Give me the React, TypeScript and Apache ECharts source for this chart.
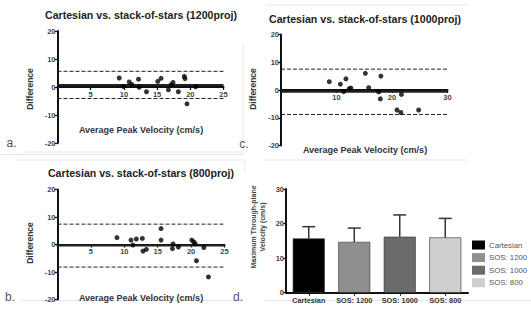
import React, { useEffect, useRef } from "react";
import * as echarts from "echarts";

// Bland-Altman panel a (1200 proj): [average, difference]
const aPoints = [
  [9.3, 3.2], [9.9, 0.2], [10.8, 1.8], [11.2, 0.9], [12.2, 2.8], [12.3, -0.1],
  [13.4, -1.7], [15.1, 2.0], [15.6, 3.1], [16.7, -1.0], [17.1, 0.8], [17.4, 1.6],
  [18.2, -1.7], [19.1, 3.8], [19.2, 3.0], [19.5, -6.0], [20.8, 0.1],
];
// mean, upper limit, lower limit
const aLines = [0.75, 5.6, -4.1];

// panel c (1000 proj)
const cPoints = [
  [8.7, 3.0], [10.7, 2.1], [11.3, -0.6], [11.7, 4.0], [12.3, 0.5], [12.6, 0.7],
  [15.2, 6.0], [15.8, 0.8], [17.6, -0.7], [18.0, 5.0], [17.9, -3.2], [20.9, -7.2],
  [21.6, -8.1], [21.7, -1.6], [24.8, -7.2],
];
const cLines = [-0.65, 7.5, -8.8];

// panel b (800 proj)
const bPoints = [
  [8.9, 2.5], [11.0, 1.6], [11.3, -0.2], [11.8, 2.0], [12.7, 2.2], [12.8, -2.4],
  [13.3, -1.8], [15.5, 5.8], [15.5, 1.6], [17.2, -1.5], [17.3, 0.2], [18.1, -0.9],
  [20.1, 1.6], [20.4, 0.9], [20.6, 0.3], [20.8, -5.9], [21.9, -1.1], [22.6, -11.8],
];
const bLines = [-0.4, 7.4, -8.2];

// Difference axis range
const diffRange = [-20, 20];

// panel d bars
const barCategories = ["Cartesian", "SOS: 1200", "SOS: 1000", "SOS: 800"];
const barMeans = [15.7, 14.7, 16.2, 16.0];
const barSD = [3.4, 4.0, 6.3, 5.5];
const barColors = ["#000000", "#8f8f8f", "#6b6b6b", "#cfcfcf"];

const FONT = "'Liberation Sans', Arial, Helvetica, sans-serif";

export default function App() {
  const ref = useRef<HTMLDivElement>(null);

  useEffect(() => {
    if (!ref.current) return;
    document.body.style.margin = "0";
    const chart = echarts.init(ref.current, null, { renderer: "svg" });

    const grids = [
      { left: 57.5, top: 31, width: 166, height: 112 },
      { left: 281, top: 34.4, width: 166.5, height: 111.2 },
      { left: 57.5, top: 189.5, width: 167, height: 110 },
      { left: 286, top: 189, width: 182, height: 103.7 },
    ];

    const tickLabel = {
      fontSize: 7.5,
      fontWeight: "bold" as const,
      color: "#444",
      fontFamily: FONT,
    };

    // x axis placed at difference = 0 (moved up from the grid bottom)
    const valueX = (gi: number, max: number, interval: number) => {
      const h = grids[gi].height;
      const zeroFromBottom = (h * (0 - diffRange[0])) / (diffRange[1] - diffRange[0]);
      return {
        type: "value" as const,
        gridIndex: gi,
        min: 0,
        max,
        interval,
        position: "bottom" as const,
        offset: -zeroFromBottom,
        axisLine: { onZero: false, lineStyle: { color: "#111", width: 2 } },
        axisTick: { show: true, length: 3, lineStyle: { color: "#111", width: 1.3 } },
        axisLabel: {
          ...tickLabel,
          margin: 3,
          formatter: (v: number) => (v === 0 ? "" : String(v)),
        },
        splitLine: { show: false },
      };
    };

    const valueY = (gi: number) => ({
      type: "value" as const,
      gridIndex: gi,
      min: diffRange[0],
      max: diffRange[1],
      interval: 10,
      axisLine: { show: true, onZero: false, lineStyle: { color: "#111", width: 2 } },
      axisTick: { show: true, length: 3, lineStyle: { color: "#111", width: 1.3 } },
      axisLabel: { ...tickLabel, margin: 2 },
      splitLine: { show: false },
    });

    const baSeries = (gi: number, pts: number[][], lines: number[], xmax: number) => {
      const hl = (y: number, dashed: boolean, w: number) => ({
        type: "line" as const,
        xAxisIndex: gi,
        yAxisIndex: gi,
        data: [
          [0, y],
          [xmax, y],
        ],
        symbol: "none",
        silent: true,
        lineStyle: { color: "#222", width: w, type: dashed ? [4, 2] : "solid" },
        z: 3,
      });
      return [
        hl(lines[0], false, 2),
        hl(lines[1], true, 1),
        hl(lines[2], true, 1),
        {
          type: "scatter" as const,
          xAxisIndex: gi,
          yAxisIndex: gi,
          data: pts,
          symbol: "circle",
          symbolSize: 5,
          itemStyle: { color: "#000" },
          z: 5,
        },
      ];
    };

    const text = (
      x: number,
      y: number,
      t: string,
      size: number,
      weight: string,
      fill: string,
      rotation = 0
    ) => ({
      type: "text" as const,
      x,
      y,
      rotation,
      silent: true,
      style: {
        text: t,
        fontSize: size,
        fontWeight: weight,
        fontFamily: FONT,
        fill,
        textAlign: "center",
        textVerticalAlign: "middle",
      },
    });

    const frame = (x1: number, y1: number, x2: number, y2: number) => ({
      type: "line" as const,
      silent: true,
      shape: { x1, y1, x2, y2 },
      style: { stroke: "#e6e6e6", lineWidth: 1 },
    });

    const option = {
      animation: false,
      grid: grids,
      legend: {
        data: barCategories,
        orient: "vertical",
        left: 472,
        top: 240.5,
        width: 59,
        padding: 0,
        itemWidth: 13,
        itemHeight: 9,
        itemGap: 3.6,
        icon: "rect",
        selectedMode: false,
        itemStyle: { borderWidth: 0 },
        textStyle: {
          fontSize: 7.8,
          color: "#555",
          fontFamily: FONT,
          overflow: "none",
          width: 45,
          padding: [0, 0, 0, -1],
        },
      },
      xAxis: [
        valueX(0, 25, 5),
        valueX(1, 30, 10),
        valueX(2, 25, 5),
        {
          type: "category",
          gridIndex: 3,
          data: barCategories,
          axisLine: { lineStyle: { color: "#111", width: 2 } },
          axisTick: { show: true, alignWithLabel: true, length: 3, lineStyle: { color: "#111" } },
          axisLabel: { ...tickLabel, fontSize: 7.3, color: "#333", margin: 4, interval: 0 },
        },
      ],
      yAxis: [
        valueY(0),
        valueY(1),
        valueY(2),
        {
          type: "value",
          gridIndex: 3,
          min: 0,
          max: 30,
          interval: 10,
          axisLine: { show: true, lineStyle: { color: "#111", width: 2 } },
          axisTick: { show: true, length: 3, lineStyle: { color: "#111", width: 1.3 } },
          axisLabel: { ...tickLabel, margin: 2 },
          splitLine: { show: false },
        },
      ],
      series: [
        ...baSeries(0, aPoints, aLines, 25),
        ...baSeries(1, cPoints, cLines, 30),
        ...baSeries(2, bPoints, bLines, 25),
        ...barCategories.map((name, i) => ({
          type: "bar" as const,
          name,
          xAxisIndex: 3,
          yAxisIndex: 3,
          barWidth: 32,
          barGap: "-100%",
          data: barCategories.map((_, j) => (j === i ? barMeans[i] : "-")),
          itemStyle: { color: barColors[i], borderColor: "#333", borderWidth: 0.6 },
          z: 2,
        })),
        {
          type: "custom",
          xAxisIndex: 3,
          yAxisIndex: 3,
          silent: true,
          z: 4,
          data: barCategories.map((_, i) => [i, barMeans[i], barMeans[i] + barSD[i]]),
          renderItem: (_params: any, api: any) => {
            const base = api.coord([api.value(0), api.value(1)]);
            const top = api.coord([api.value(0), api.value(2)]);
            const hw = 6.5;
            return {
              type: "group",
              children: [
                {
                  type: "line",
                  shape: { x1: base[0], y1: base[1], x2: top[0], y2: top[1] },
                  style: { stroke: "#333", lineWidth: 1.5 },
                },
                {
                  type: "line",
                  shape: { x1: top[0] - hw, y1: top[1], x2: top[0] + hw, y2: top[1] },
                  style: { stroke: "#333", lineWidth: 1.5 },
                },
              ],
            };
          },
        },
      ],
      graphic: [
        frame(0, 154.5, 243, 154.5),
        frame(243, 43, 243, 154.5),
        frame(265, 5, 468, 5),
        frame(25, 152, 243, 152),
        frame(15, 160, 245, 160),
        frame(245, 160, 245, 173),
        frame(20, 300.5, 243, 300.5),
        frame(265, 160, 468, 160),
        frame(265, 300.5, 531, 300.5),
        text(141, 15, "Cartesian vs. stack-of-stars (1200proj)", 10.6, "bold", "#222"),
        text(365, 18.5, "Cartesian vs. stack-of-stars (1000proj)", 10.6, "bold", "#222"),
        text(141, 173, "Cartesian vs. stack-of-stars (800proj)", 10.6, "bold", "#222"),
        text(141, 130, "Average Peak Velocity (cm/s)", 9, "bold", "#333"),
        text(365, 150, "Average Peak Velocity (cm/s)", 9, "bold", "#333"),
        text(141, 298, "Average Peak Velocity (cm/s)", 9, "bold", "#333"),
        text(30, 89, "Difference", 8.5, "bold", "#333", Math.PI / 2),
        text(253, 89, "Difference", 8.5, "bold", "#333", Math.PI / 2),
        text(30, 243, "Difference", 8.5, "bold", "#333", Math.PI / 2),
        text(253.5, 227, "Maximum Through-plane", 7, "bold", "#444", Math.PI / 2),
        text(262, 227, "Velocity (cm/s)", 7, "bold", "#444", Math.PI / 2),
        text(11.5, 143, "a.", 12, "normal", "#555"),
        text(244, 144, "c.", 12, "normal", "#555"),
        text(10, 297, "b.", 12, "normal", "#555"),
        text(238, 297, "d.", 12, "normal", "#555"),
      ],
    };

    chart.setOption(option as any);
    return () => chart.dispose();
  }, []);

  return (
    <div
      ref={ref}
      style={{ position: "absolute", left: 0, top: 0, width: 531, height: 311 }}
    />
  );
}
